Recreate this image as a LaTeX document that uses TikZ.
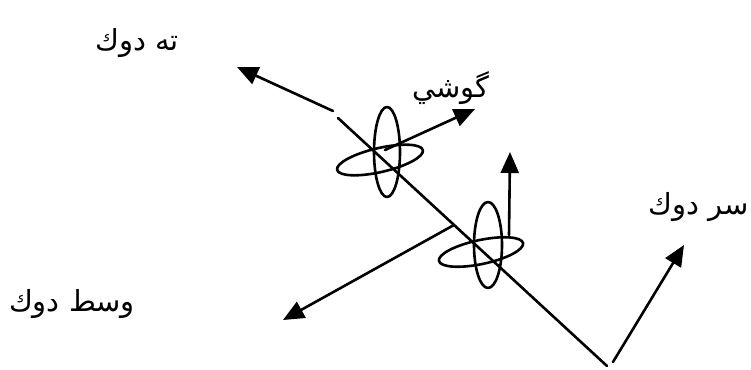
\documentclass[tikz,border=0pt]{standalone}
\usepackage{fontspec}
\newfontfamily\arabicfont[Script=Arabic]{DejaVu Sans}
\TeXXeTstate=1
\usetikzlibrary{arrows.meta}

\begin{document}
\begin{tikzpicture}[x=1pt,y=-1pt,line cap=round,line join=round,
  axis/.style={line width=2.6pt},
  vec/.style={axis,-{Triangle[length=21pt,width=18pt]}},
  partname/.style={font=\arabicfont\fontsize{29}{34}\selectfont,inner sep=0pt}]
\useasboundingbox (0,0) rectangle (751,369);

% main shaft
\coordinate (neck) at (333,111);
\coordinate (top) at (338,118);
\coordinate (bottom) at (607,366);
\coordinate (mid) at (454,225);

% ring centres
\coordinate (R1v) at (387,152);
\coordinate (R1h) at (380,160);
\coordinate (R2v) at (488,245);
\coordinate (R2h) at (481,252);

% arrow ends
\coordinate (tipTah) at (237,67);
\coordinate (gosStart) at (385,150);
\coordinate (tipGos) at (475,109);
\coordinate (upStart) at (509,235);
\coordinate (tipUp) at (510,152);
\coordinate (tipVasat) at (283,320);
\coordinate (sarStart) at (613,362);
\coordinate (tipSar) at (684,245);

\draw[axis] (top) -- (bottom);
\draw[vec] (neck) -- (tipTah);
\draw[vec] (gosStart) -- (tipGos);
\draw[vec] (upStart) -- (tipUp);
\draw[vec] (mid) -- (tipVasat);
\draw[vec] (sarStart) -- (tipSar);

% rings
\draw[axis] (R1v) ellipse[x radius=13pt,y radius=45pt];
\draw[axis,rotate around={13:(R1h)}] (R1h) ellipse[x radius=44pt,y radius=12pt];
\draw[axis] (R2v) ellipse[x radius=14pt,y radius=43pt];
\draw[axis,rotate around={12:(R2h)}] (R2h) ellipse[x radius=43pt,y radius=12pt];

% names
\node[partname] (tah) at (137,43) {\beginR ته دوك\endR};
\node[partname] (gooshi) at (451,88) {\beginR گوشي\endR};
\node[partname,anchor=west] (sar) at (648,207) {\beginR سر دوك\endR};
\node[partname] (vasat) at (72,304) {\beginR وسط دوك\endR};
\end{tikzpicture}
\end{document}
